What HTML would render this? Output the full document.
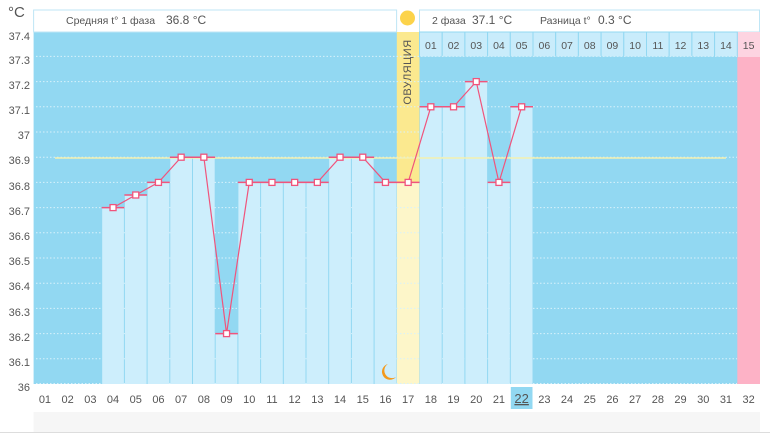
<!DOCTYPE html>
<html><head><meta charset="utf-8"><style>
html,body{margin:0;padding:0;background:#fff;}
svg{display:block;font-family:"Liberation Sans","DejaVu Sans",sans-serif;}
</style></head><body>
<svg width="770" height="433" viewBox="0 0 770 433" xmlns="http://www.w3.org/2000/svg">
<rect x="0" y="0" width="770" height="433" fill="#fff"/>
<!-- plot background -->
<rect x="33.6" y="32" width="726.4" height="352" fill="#92d8f2"/>
<!-- header boxes -->
<rect x="33.6" y="10" width="363" height="22" fill="#fff" stroke="#bfe6f6" stroke-width="1"/>
<rect x="419.5" y="10" width="340" height="22" fill="#fff" stroke="#bfe6f6" stroke-width="1"/>
<text x="66" y="24" font-size="10.5" fill="#555">Средняя t° 1 фаза</text>
<text x="166" y="24" font-size="12" fill="#555">36.8 °C</text>
<text x="432" y="24" font-size="10.5" fill="#555">2 фаза</text>
<text x="472" y="24" font-size="12" fill="#555">37.1 °C</text>
<text x="540" y="24" font-size="10.5" fill="#555">Разница t°</text>
<text x="598" y="24" font-size="12" fill="#555">0.3 °C</text>
<circle cx="407.5" cy="18" r="7.5" fill="#fcd34a"/>
<!-- ovulation column -->
<rect x="396.8" y="32" width="22.7" height="150.4" fill="#fbe98f"/>
<rect x="396.8" y="182.4" width="22.7" height="201.6" fill="#fdf6c9"/>
<text transform="translate(411,72) rotate(-90)" font-size="11" fill="#555" text-anchor="middle" letter-spacing="0.5">ОВУЛЯЦИЯ</text>
<!-- pink column 32 -->
<rect x="737.3" y="32" width="22.7" height="352" fill="#fdb2c6"/>
<rect x="737.3" y="32" width="22.7" height="25" fill="#fdd4e1"/>
<!-- phase 2 header cells -->
<g fill="#c9ecfb" stroke="#92d8f2" stroke-width="1">
<rect x="419.5" y="32" width="22.7" height="25"/><rect x="442.2" y="32" width="22.7" height="25"/><rect x="464.9" y="32" width="22.7" height="25"/><rect x="487.6" y="32" width="22.7" height="25"/><rect x="510.3" y="32" width="22.7" height="25"/><rect x="533" y="32" width="22.7" height="25"/><rect x="555.7" y="32" width="22.7" height="25"/><rect x="578.4" y="32" width="22.7" height="25"/><rect x="601.1" y="32" width="22.7" height="25"/><rect x="623.8" y="32" width="22.7" height="25"/><rect x="646.5" y="32" width="22.7" height="25"/><rect x="669.2" y="32" width="22.7" height="25"/><rect x="691.9" y="32" width="22.7" height="25"/><rect x="714.6" y="32" width="22.7" height="25"/>
</g>
<g font-size="10.5" fill="#555" text-anchor="middle">
<text x="430.85" y="49">01</text><text x="453.55" y="49">02</text><text x="476.25" y="49">03</text><text x="498.95" y="49">04</text><text x="521.65" y="49">05</text><text x="544.35" y="49">06</text><text x="567.05" y="49">07</text><text x="589.75" y="49">08</text><text x="612.45" y="49">09</text><text x="635.15" y="49">10</text><text x="657.85" y="49">11</text><text x="680.55" y="49">12</text><text x="703.25" y="49">13</text><text x="725.95" y="49">14</text><text x="748.65" y="49">15</text>
</g>
<!-- gridlines -->
<g stroke="#d8f1fb" stroke-width="1" stroke-dasharray="1.5,2">
<line x1="36" x2="737" y1="56.4" y2="56.4"/><line x1="36" x2="737" y1="81.6" y2="81.6"/><line x1="36" x2="737" y1="106.8" y2="106.8"/><line x1="36" x2="737" y1="132" y2="132"/><line x1="36" x2="737" y1="157.2" y2="157.2"/><line x1="36" x2="737" y1="182.4" y2="182.4"/><line x1="36" x2="737" y1="207.6" y2="207.6"/><line x1="36" x2="737" y1="232.8" y2="232.8"/><line x1="36" x2="737" y1="258" y2="258"/><line x1="36" x2="737" y1="283.2" y2="283.2"/><line x1="36" x2="737" y1="308.4" y2="308.4"/><line x1="36" x2="737" y1="333.6" y2="333.6"/><line x1="36" x2="737" y1="358.8" y2="358.8"/><line x1="36" x2="737" y1="383.5" y2="383.5"/>
</g>
<!-- bars -->
<g fill="#cdeefc">
<rect x="102.2" y="207.6" width="21.7" height="176.4"/>
<rect x="124.9" y="195" width="21.7" height="189"/>
<rect x="147.6" y="182.4" width="21.7" height="201.6"/>
<rect x="170.3" y="157.2" width="21.7" height="226.8"/>
<rect x="193" y="157.2" width="21.7" height="226.8"/>
<rect x="215.7" y="333.6" width="21.7" height="50.4"/>
<rect x="238.4" y="182.4" width="21.7" height="201.6"/>
<rect x="261.1" y="182.4" width="21.7" height="201.6"/>
<rect x="283.8" y="182.4" width="21.7" height="201.6"/>
<rect x="306.5" y="182.4" width="21.7" height="201.6"/>
<rect x="329.2" y="157.2" width="21.7" height="226.8"/>
<rect x="351.9" y="157.2" width="21.7" height="226.8"/>
<rect x="374.6" y="182.4" width="21.7" height="201.6"/>
<rect x="420" y="106.8" width="21.7" height="277.2"/>
<rect x="442.7" y="106.8" width="21.7" height="277.2"/>
<rect x="465.4" y="81.6" width="21.7" height="302.4"/>
<rect x="488.1" y="182.4" width="21.7" height="201.6"/>
<rect x="510.8" y="106.8" width="21.7" height="277.2"/>
</g>
<!-- coverline -->
<line x1="55" x2="726" y1="158" y2="158" stroke="#f3f0b0" stroke-width="1.5"/>
<!-- marker horizontal bars -->
<g stroke="#f0547c" stroke-width="1.5">
<line x1="101.7" x2="124.4" y1="207.6" y2="207.6"/><line x1="124.4" x2="147.1" y1="195" y2="195"/><line x1="147.1" x2="169.8" y1="182.4" y2="182.4"/><line x1="169.8" x2="192.5" y1="157.2" y2="157.2"/><line x1="192.5" x2="215.2" y1="157.2" y2="157.2"/><line x1="215.2" x2="237.9" y1="333.6" y2="333.6"/><line x1="237.9" x2="260.6" y1="182.4" y2="182.4"/><line x1="260.6" x2="283.3" y1="182.4" y2="182.4"/><line x1="283.3" x2="306" y1="182.4" y2="182.4"/><line x1="306" x2="328.7" y1="182.4" y2="182.4"/><line x1="328.7" x2="351.4" y1="157.2" y2="157.2"/><line x1="351.4" x2="374.1" y1="157.2" y2="157.2"/><line x1="374.1" x2="396.8" y1="182.4" y2="182.4"/><line x1="396.8" x2="419.5" y1="182.4" y2="182.4"/><line x1="419.5" x2="442.2" y1="106.8" y2="106.8"/><line x1="442.2" x2="464.9" y1="106.8" y2="106.8"/><line x1="464.9" x2="487.6" y1="81.6" y2="81.6"/><line x1="487.6" x2="510.3" y1="182.4" y2="182.4"/><line x1="510.3" x2="533" y1="106.8" y2="106.8"/>
</g>
<polyline fill="none" stroke="#f0547c" stroke-width="1.2" points="113.05,207.6 135.75,195 158.45,182.4 181.15,157.2 203.85,157.2 226.55,333.6 249.25,182.4 271.95,182.4 294.65,182.4 317.35,182.4 340.05,157.2 362.75,157.2 385.45,182.4 408.15,182.4 430.85,106.8 453.55,106.8 476.25,81.6 498.95,182.4 521.65,106.8"/>
<g fill="#fff" stroke="#f0547c" stroke-width="1.3">
<rect x="110.05" y="204.6" width="6" height="6"/><rect x="132.75" y="192" width="6" height="6"/><rect x="155.45" y="179.4" width="6" height="6"/><rect x="178.15" y="154.2" width="6" height="6"/><rect x="200.85" y="154.2" width="6" height="6"/><rect x="223.55" y="330.6" width="6" height="6"/><rect x="246.25" y="179.4" width="6" height="6"/><rect x="268.95" y="179.4" width="6" height="6"/><rect x="291.65" y="179.4" width="6" height="6"/><rect x="314.35" y="179.4" width="6" height="6"/><rect x="337.05" y="154.2" width="6" height="6"/><rect x="359.75" y="154.2" width="6" height="6"/><rect x="382.45" y="179.4" width="6" height="6"/><rect x="405.15" y="179.4" width="6" height="6"/><rect x="427.85" y="103.8" width="6" height="6"/><rect x="450.55" y="103.8" width="6" height="6"/><rect x="473.25" y="78.6" width="6" height="6"/><rect x="495.95" y="179.4" width="6" height="6"/><rect x="518.65" y="103.8" width="6" height="6"/>
</g>
<!-- moon -->
<path d="M388,364 A8,8 0 1,0 396,377 A6.5,6.5 0 1,1 388,364 Z" fill="#f39a1c"/>
<!-- y axis labels -->
<text x="8" y="17" font-size="15" fill="#555">°C</text>
<g font-size="11" fill="#555" text-anchor="end">
<text x="30" y="40">37.4</text><text x="30" y="64">37.3</text><text x="30" y="89">37.2</text><text x="30" y="114">37.1</text><text x="30" y="139">37</text><text x="30" y="164">36.9</text><text x="30" y="190">36.8</text><text x="30" y="215">36.7</text><text x="30" y="240">36.6</text><text x="30" y="265">36.5</text><text x="30" y="290">36.4</text><text x="30" y="316">36.3</text><text x="30" y="341">36.2</text><text x="30" y="366">36.1</text><text x="30" y="391">36</text>
</g>
<!-- bottom -->
<rect x="510.8" y="387" width="21.7" height="22" fill="#92d8f2"/>
<rect x="33.6" y="412" width="726.4" height="20" fill="#f6f6f6"/>
<line x1="0" x2="770" y1="432.5" y2="432.5" stroke="#ddd"/>
<g font-size="11" fill="#555" text-anchor="middle">
<text x="44.95" y="403">01</text><text x="67.65" y="403">02</text><text x="90.35" y="403">03</text><text x="113.05" y="403">04</text><text x="135.75" y="403">05</text><text x="158.45" y="403">06</text><text x="181.15" y="403">07</text><text x="203.85" y="403">08</text><text x="226.55" y="403">09</text><text x="249.25" y="403">10</text><text x="271.95" y="403">11</text><text x="294.65" y="403">12</text><text x="317.35" y="403">13</text><text x="340.05" y="403">14</text><text x="362.75" y="403">15</text><text x="385.45" y="403">16</text><text x="408.15" y="403">17</text><text x="430.85" y="403">18</text><text x="453.55" y="403">19</text><text x="476.25" y="403">20</text><text x="498.95" y="403">21</text><text x="521.65" y="403" font-size="13" text-decoration="underline">22</text><text x="544.35" y="403">23</text><text x="567.05" y="403">24</text><text x="589.75" y="403">25</text><text x="612.45" y="403">26</text><text x="635.15" y="403">27</text><text x="657.85" y="403">28</text><text x="680.55" y="403">29</text><text x="703.25" y="403">30</text><text x="725.95" y="403">31</text><text x="748.65" y="403">32</text>
</g>
</svg>
</body></html>
